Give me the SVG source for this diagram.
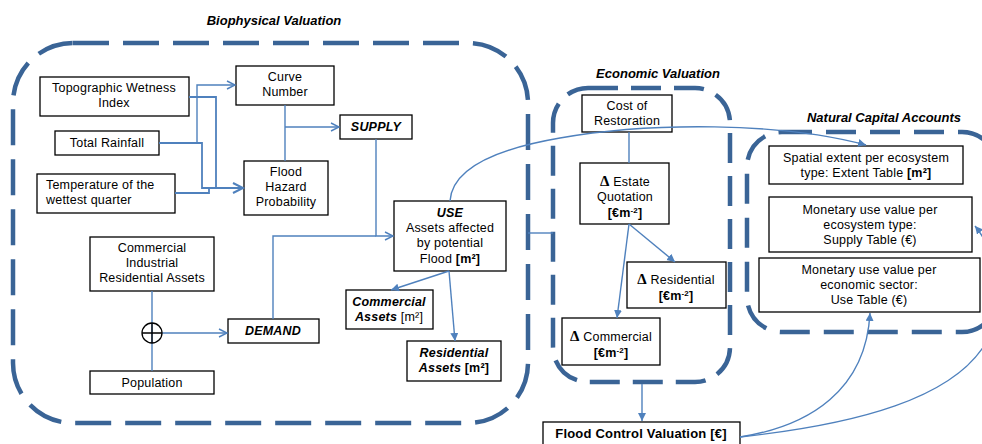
<svg xmlns="http://www.w3.org/2000/svg" width="982" height="444" viewBox="0 0 982 444">
<defs>
<style>
.bg{fill:#fff}
.box{fill:#fff;stroke:#000;stroke-width:1.3}
.grp{fill:none;stroke:#3A6496;stroke-width:4.5}
.c{fill:none;stroke:#4F81BD;stroke-width:1.4}
.ct{fill:none;stroke:#4F81BD;stroke-width:1.8}
text{font-family:"Liberation Sans",Arial,sans-serif;font-size:12.5px;letter-spacing:0.2px;fill:#000;text-anchor:middle}
.t{font-size:13px;font-weight:bold;font-style:italic;letter-spacing:0}
.bi{font-weight:bold;font-style:italic}
.b{font-weight:bold}
.d{font-family:"Liberation Serif","Times New Roman",serif;font-weight:bold;font-size:15px}
.sup{font-size:8px}
</style>
<marker id="open" markerUnits="userSpaceOnUse" markerWidth="12" markerHeight="12" refX="9" refY="5" orient="auto"><path d="M1,1 L9,5 L1,9" fill="none" stroke="#4F81BD" stroke-width="1.4"/></marker>
<marker id="openL" markerUnits="userSpaceOnUse" markerWidth="14" markerHeight="14" refX="11" refY="6" orient="auto"><path d="M1,1 L11,6 L1,11" fill="none" stroke="#4F81BD" stroke-width="2"/></marker>
<marker id="tri" markerUnits="userSpaceOnUse" markerWidth="10" markerHeight="10" refX="8" refY="4" orient="auto"><path d="M0,0 L8,4 L0,8 Z" fill="#4F81BD"/></marker>
</defs>
<rect class="bg" x="0" y="0" width="982" height="444"/>

<g id="groups">
<rect class="grp" x="13" y="43" width="515" height="380" rx="60" ry="60" stroke-dasharray="36 14"/>
<rect class="grp" x="553" y="88" width="177" height="294" rx="35" ry="35" stroke-dasharray="30 13"/>
<rect class="grp" x="747" y="132" width="250" height="200" rx="35" ry="35" stroke-dasharray="30 14"/>
<text class="t" x="274" y="25">Biophysical Valuation</text>
<text class="t" x="658" y="78">Economic Valuation</text>
<text class="t" x="884" y="122">Natural Capital  Accounts</text>
</g>

<g id="n-topo"><rect class="box" x="40" y="77" width="149" height="39"/><text x="114" y="92">Topographic Wetness</text><text x="114" y="107">Index</text></g>
<g id="n-rain"><rect class="box" x="55" y="131" width="104" height="24"/><text x="107" y="147">Total Rainfall</text></g>
<g id="n-temp"><rect class="box" x="37" y="174" width="138" height="39"/><text x="46" y="189" style="text-anchor:start">Temperature of the</text><text x="46" y="204" style="text-anchor:start">wettest quarter</text></g>
<g id="n-curve"><rect class="box" x="236" y="66" width="98" height="39"/><text x="285" y="81">Curve</text><text x="285" y="96">Number</text></g>
<g id="n-flood"><rect class="box" x="244" y="161" width="84" height="54"/><text x="286" y="176">Flood</text><text x="286" y="191">Hazard</text><text x="286" y="206">Probability</text></g>
<g id="n-supply"><rect class="box" x="340" y="115" width="72" height="24"/><text class="bi" x="376" y="131">SUPPLY</text></g>
<g id="n-use"><rect class="box" x="394" y="201" width="112" height="70"/><text class="bi" x="450" y="217">USE</text><text x="450" y="232">Assets affected</text><text x="450" y="247">by potential</text><text x="450" y="263">Flood <tspan class="b">[m²]</tspan></text></g>
<g id="n-cira"><rect class="box" x="90" y="237" width="124" height="54"/><text x="152" y="252">Commercial</text><text x="152" y="267">Industrial</text><text x="152" y="282">Residential Assets</text></g>
<g id="n-pop"><rect class="box" x="90" y="371" width="124" height="23"/><text x="152" y="387">Population</text></g>
<g id="n-demand"><rect class="box" x="228" y="319" width="91" height="24"/><text class="bi" x="273" y="335">DEMAND</text></g>
<g id="n-comm"><rect class="box" x="346" y="290" width="87" height="39"/><text class="bi" x="389" y="306">Commercial</text><text x="389" y="321"><tspan class="bi">Assets</tspan> [m²]</text></g>
<g id="n-res"><rect class="box" x="407" y="341" width="94" height="40"/><text class="bi" x="454" y="357">Residential</text><text x="454" y="372"><tspan class="bi">Assets</tspan>  <tspan class="b">[m²]</tspan></text></g>

<g id="n-cost"><rect class="box" x="582" y="95" width="90" height="37"/><text x="627" y="110">Cost of</text><text x="627" y="125">Restoration</text></g>
<g id="n-estate"><rect class="box" x="580" y="163" width="89" height="61"/><text x="625" y="186"><tspan class="d">Δ</tspan> Estate</text><text x="625" y="201">Quotation</text><text class="b" x="625" y="217">[€m<tspan class="sup" baseline-shift="super">-2</tspan>]</text></g>
<g id="n-dres"><rect class="box" x="627" y="262" width="99" height="46"/><text x="676" y="284"><tspan class="d">Δ</tspan> Residential</text><text class="b" x="676" y="300">[€m<tspan class="sup" baseline-shift="super">-2</tspan>]</text></g>
<g id="n-dcom"><rect class="box" x="562" y="318" width="98" height="47"/><text x="611" y="341"><tspan class="d">Δ</tspan> Commercial</text><text class="b" x="611" y="357">[€m<tspan class="sup" baseline-shift="super">-2</tspan>]</text></g>
<g id="n-fcv"><rect class="box" x="543" y="422" width="197" height="30"/><text class="b" x="641" y="438" style="font-size:13px">Flood Control Valuation [€]</text></g>

<g id="n-extent"><rect class="box" x="769" y="146" width="194" height="38"/><text x="866" y="162">Spatial extent per ecosystem</text><text x="866" y="177">type: Extent Table <tspan class="b">[m²]</tspan></text></g>
<g id="n-supplyt"><rect class="box" x="769" y="197" width="203" height="55"/><text x="870" y="214">Monetary use value per</text><text x="870" y="229">ecosystem type:</text><text x="870" y="244">Supply Table (€)</text></g>
<g id="n-uset"><rect class="box" x="759" y="258" width="221" height="54"/><text x="869" y="274">Monetary use value per</text><text x="869" y="289">economic sector:</text><text x="869" y="304">Use Table (€)</text></g>

<g id="connectors">
<path class="ct" d="M159,143 H202 V188 H243" marker-end="url(#openL)"/>
<path class="ct" d="M189,97 H216 V188"/>
<path class="ct" d="M175,193 H209 V188"/>
<path class="c" d="M197,143 V85 H235" marker-end="url(#open)"/>
<path class="c" d="M285,105 V161"/>
<path class="c" d="M285,127 H339" marker-end="url(#open)"/>
<path class="c" d="M376,139 V236 H393" marker-end="url(#open)"/>
<path class="c" d="M273,319 V236 H376"/>
<path class="c" d="M152,291 V371"/>
<path class="c" d="M162,333 H227" marker-end="url(#open)"/>
<path class="c" d="M449,271 L391,290" marker-end="url(#tri)"/>
<path class="c" d="M449,271 L455,341" marker-end="url(#tri)"/>
<path class="c" d="M528,233 H553"/>
<path class="c" d="M629,132 V163"/>
<path class="c" d="M629,224 L675,262" marker-end="url(#tri)"/>
<path class="c" d="M629,224 L617,318" marker-end="url(#tri)"/>
<path class="c" d="M642,384 V421" marker-end="url(#tri)"/>
<path class="c" d="M450,201 C452,170 490,150 560,138 C650,122 780,122 866,145" marker-end="url(#tri)"/>
<path class="c" d="M740,437 C810,426 866,390 870,313" marker-end="url(#tri)"/>
<path class="c" d="M740,437 C850,425 960,400 990,335 C1005,295 995,250 975,226" marker-end="url(#tri)"/>
<circle cx="152" cy="333" r="10" fill="none" stroke="#000" stroke-width="1.3"/>
<path d="M142,333 H162 M152,323 V343" stroke="#000" stroke-width="1.3"/>
</g>
</svg>
